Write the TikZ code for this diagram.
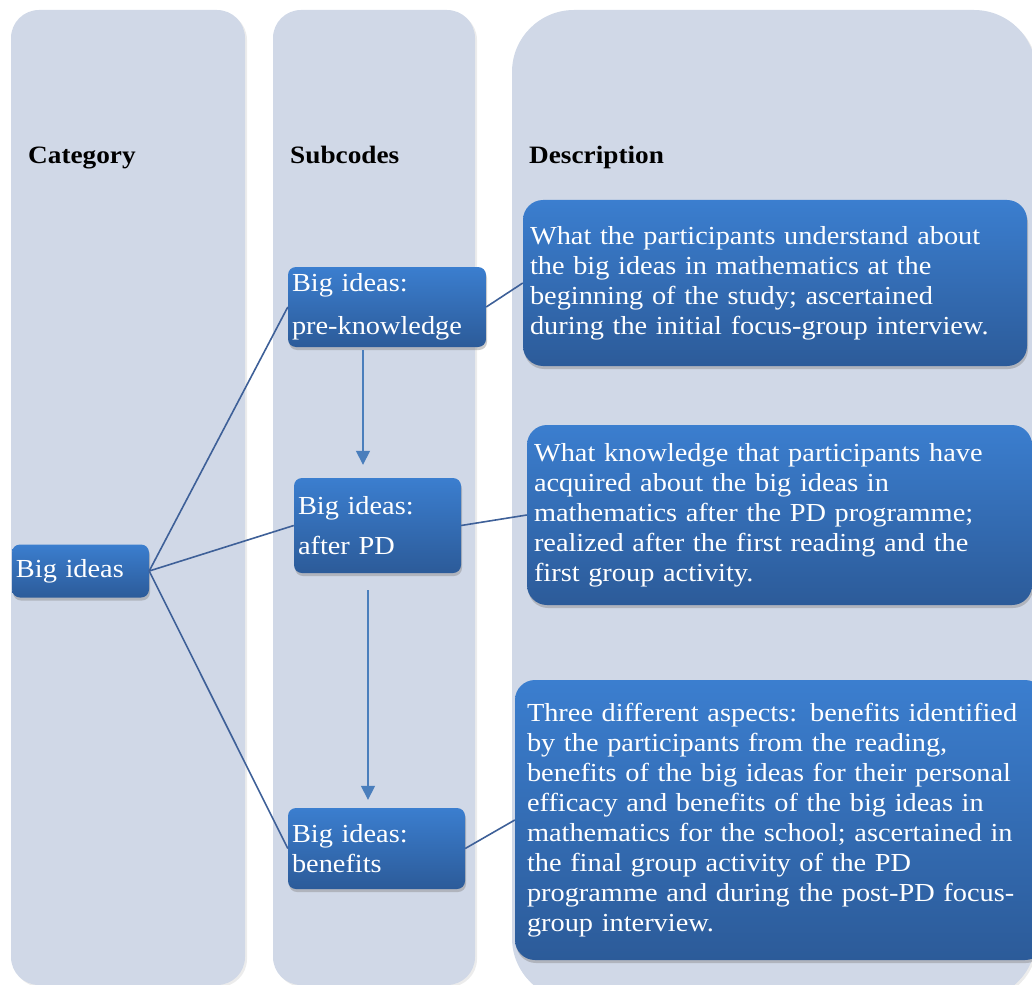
\documentclass[tikz,border=0pt]{standalone}
\usepackage{fontspec}
\setmainfont[FakeStretch=1.09]{Liberation Serif}
\usetikzlibrary{arrows.meta,shadows}
\definecolor{colbg}{RGB}{208,216,231}
\definecolor{boxtop}{RGB}{59,126,207}
\definecolor{boxbot}{RGB}{44,91,153}
\definecolor{linkblue}{RGB}{62,96,152}
\definecolor{arrblue}{RGB}{74,126,188}
\tikzset{
  column/.style={fill=colbg, rounded corners=28pt, inner sep=0pt,
    drop shadow={opacity=0.15, shadow xshift=2pt, shadow yshift=-2pt}},
  head/.style={font=\fontsize{25}{29}\selectfont\bfseries, anchor=base west, inner sep=0pt},
  codebox/.style={top color=boxtop, bottom color=boxbot, rounded corners=8pt,
    text=white, font=\fontsize{26}{30}\selectfont, align=left, inner sep=4pt,
    drop shadow={opacity=0.4, shadow xshift=1pt, shadow yshift=-3pt}},
  descbox/.style={codebox, rounded corners=20pt, inner xsep=7pt},
  link/.style={draw=linkblue, line width=1.6pt},
  flow/.style={draw=arrblue, line width=1.6pt, -{Triangle[width=14pt,length=14pt]}}
}
\begin{document}
\begin{tikzpicture}[x=1pt,y=-1pt]
  \useasboundingbox (0,0) rectangle (1032,984);

  \node[column, minimum width=234pt, minimum height=975pt] (colcat) at (128,497.5) {};
  \node[column, minimum width=202pt, minimum height=975pt] (colsub) at (374,497.5) {};
  \node[column, rounded corners=62pt, minimum width=524pt, minimum height=990pt] (coldesc) at (774,505) {};

  \node[head] (hcat) at (28,164) {Category};
  \node[head] (hsub) at (290,164) {Subcodes};
  \node[head] (hdesc) at (529,164) {Description};

  \node[codebox, minimum height=53pt, text width=129pt] (cat) at (80.5,571) {Big ideas};
  \node[codebox, minimum height=80pt, text width=190pt] (pk) at (387,307) {Big ideas:\\[13pt]pre-knowledge};
  \node[codebox, minimum height=95pt, text width=159pt] (ap) at (377.5,525.5) {Big ideas:\\[10pt]after PD};
  \node[codebox, minimum height=81pt, text width=169pt] (bf) at (376.5,848.5) {Big ideas:\\benefits};

  \node[descbox, minimum height=166pt, text width=490pt] (d1) at (775,283) {What the participants understand about\\ the big ideas in mathematics at the\\ beginning of the study; ascertained\\ during the initial focus-group interview.};
  \node[descbox, minimum height=180pt, text width=491pt] (d2) at (779.5,515) {What knowledge that participants have\\ acquired about the big ideas in\\ mathematics after the PD programme;\\ realized after the first reading and the\\ first group activity.};
  \node[descbox, inner xsep=12pt, minimum height=280pt, text width=506pt] (d3) at (780,820) {Three different aspects: benefits identified\\ by the participants from the reading,\\ benefits of the big ideas for their personal\\ efficacy and benefits of the big ideas in\\ mathematics for the school; ascertained in\\ the final group activity of the PD\\ programme and during the post-PD focus-\\ group interview.};

  \draw[link] (cat.east) -- (pk.west);
  \draw[link] (cat.east) -- (ap.west);
  \draw[link] (cat.east) -- (bf.west);
  \draw[link] (pk.east) -- (d1.west);
  \draw[link] (ap.east) -- (d2.west);
  \draw[link] (bf.east) -- (d3.west);

  \draw[flow] ([xshift=-24pt,yshift=-3pt]pk.south) -- ([xshift=-14.5pt,yshift=13pt]ap.north);
  \draw[flow] ([xshift=-9.5pt,yshift=-17pt]ap.south) -- ([xshift=-8.5pt,yshift=8pt]bf.north);
\end{tikzpicture}
\end{document}
